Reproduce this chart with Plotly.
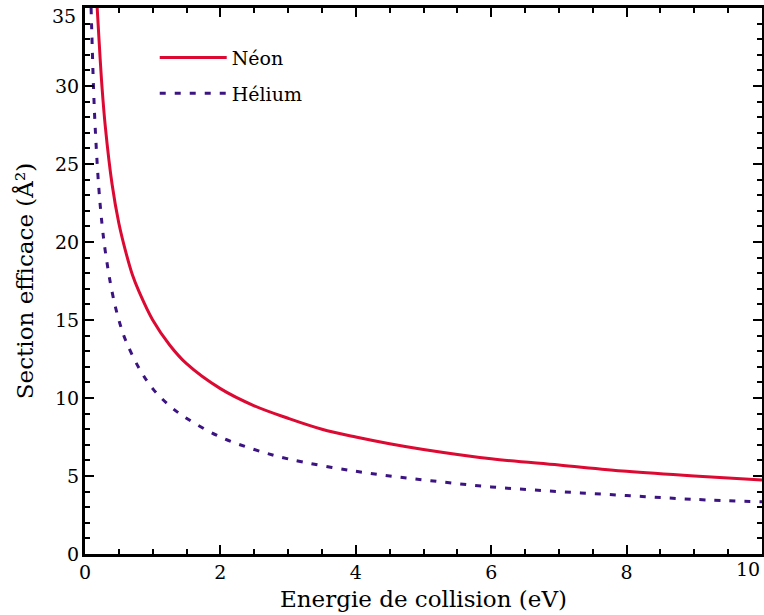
import plotly.graph_objects as go

# Energie de collision (eV) et section efficace (Å²)
energie_neon = [0.18, 0.2, 0.25, 0.3, 0.4, 0.5, 0.6, 0.7, 0.8, 1.0, 1.25, 1.5, 2.0, 2.5,
                3.0, 3.5, 4.0, 4.5, 5.0, 6.0, 7.0, 8.0, 9.0, 10.0]
section_neon = [35.0, 33.5, 30.0, 27.4, 23.7, 21.2, 19.4, 17.9, 16.8, 15.0, 13.4, 12.2, 10.6, 9.5,
                8.7, 8.0, 7.5, 7.07, 6.7, 6.1, 5.7, 5.3, 5.0, 4.75]

energie_helium = [0.09, 0.1, 0.125, 0.15, 0.2, 0.25, 0.3, 0.4, 0.5, 0.6, 0.8, 1.0, 1.25, 1.5,
                  2.0, 2.5, 3.0, 4.0, 5.0, 6.0, 7.0, 8.0, 9.0, 10.0]
section_helium = [35.0, 33.5, 30.0, 27.4, 23.7, 21.2, 19.4, 16.8, 15.0, 13.7, 11.9, 10.6, 9.5, 8.7,
                  7.5, 6.7, 6.1, 5.3, 4.75, 4.3, 4.0, 3.75, 3.5, 3.35]

x_ticks = [0, 2, 4, 6, 8, 10]
y_ticks = [0, 5, 10, 15, 20, 25, 30, 35]

FONT = "DejaVu Serif"
TICK_FONT = dict(family=FONT, size=19, color="black")

fig = go.Figure()
fig.add_trace(go.Scatter(x=energie_neon, y=section_neon, mode="lines", name="Néon",
                         legendgroup="ne",
                         line=dict(color="#DC0A32", width=3, shape="spline")))
fig.add_trace(go.Scatter(x=energie_helium, y=section_helium, mode="lines", name="Hélium",
                         legendgroup="he",
                         line=dict(color="#3C1482", width=3, dash="6px,9px", shape="spline")))

axis_style = dict(showline=True, linecolor="black", linewidth=3, mirror="allticks",
                  ticks="inside", ticklen=9, tickwidth=2, tickcolor="black",
                  showgrid=False, zeroline=False, tickfont=TICK_FONT)

# the last label on each axis sits at the page edge, so it is written as an annotation
fig.update_xaxes(range=[0, 10], tickvals=x_ticks,
                 ticktext=[str(v) for v in x_ticks[:-1]] + [""],
                 ticklabelstandoff=-1, **axis_style,
                 minor=dict(ticks="inside", dtick=0.5, ticklen=5, tickwidth=2, tickcolor="black"),
                 title=dict(text="Energie de collision (eV)", standoff=10,
                            font=dict(family=FONT, size=23, color="black")))
fig.update_yaxes(range=[0, 35], tickvals=y_ticks,
                 ticktext=[str(v) for v in y_ticks[:-1]] + [""],
                 ticklabelstandoff=-1, **axis_style,
                 minor=dict(ticks="inside", dtick=1, ticklen=5, tickwidth=2, tickcolor="black"),
                 title=dict(text="Section efficace (Å²)", standoff=15,
                            font=dict(family=FONT, size=23, color="black")))

fig.add_annotation(text=str(x_ticks[-1]), x=1, xref="paper", xanchor="right",
                   y=0, yref="paper", yanchor="middle", yshift=-15,
                   showarrow=False, font=TICK_FONT)
fig.add_annotation(text=str(y_ticks[-1]), x=0, xref="paper", xanchor="right", xshift=-7,
                   y=1, yref="paper", yanchor="middle", yshift=-8,
                   showarrow=False, font=TICK_FONT)

fig.update_layout(
    width=764, height=615,
    margin=dict(l=85, r=2, t=8, b=61, autoexpand=False),
    plot_bgcolor="white", paper_bgcolor="white",
    legend=dict(x=0.103, y=0.944, xanchor="left", yanchor="top",
                bgcolor="rgba(0,0,0,0)", itemwidth=67, tracegroupgap=8,
                font=dict(family=FONT, size=19, color="black")),
)

fig.write_html("out.html", config={"displayModeBar": False},
               post_script="document.body.style.margin='0';")
